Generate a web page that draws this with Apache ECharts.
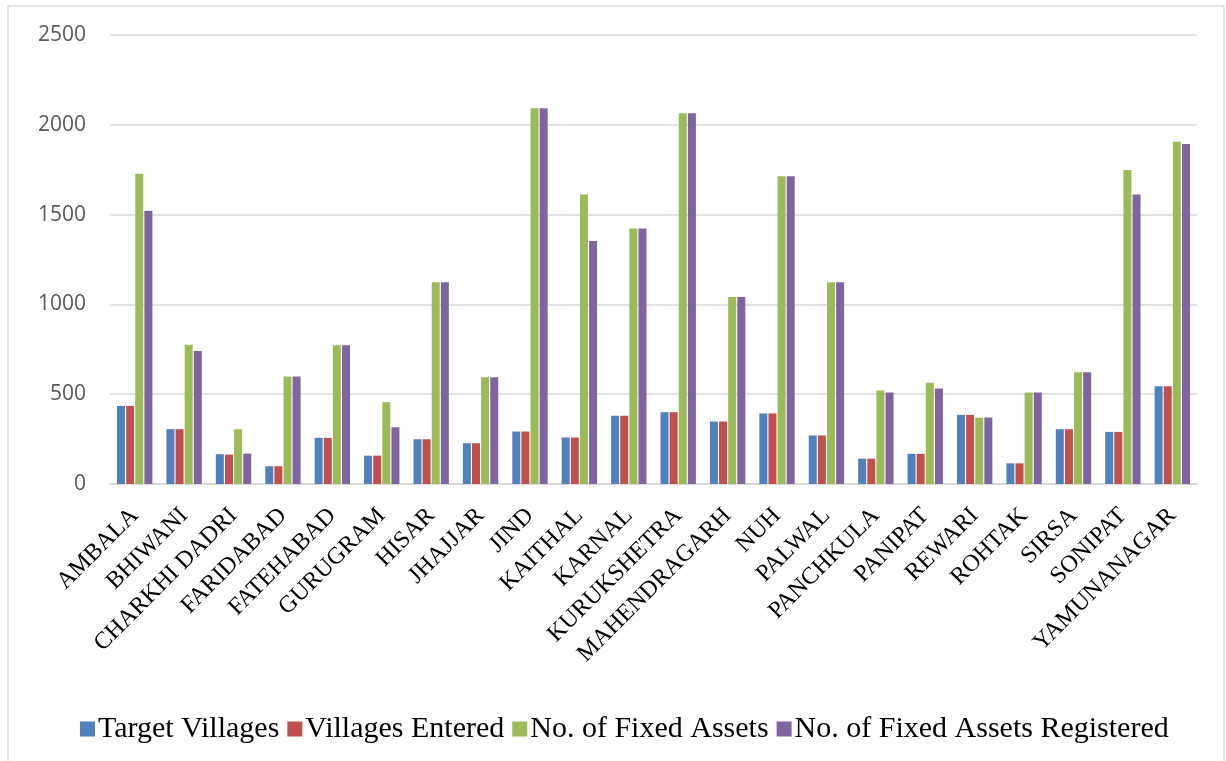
<!DOCTYPE html>
<html>
<head>
<meta charset="utf-8">
<script src="https://cdn.jsdelivr.net/npm/echarts@6/dist/echarts.min.js"></script>
<style>
html,body{margin:0;padding:0;background:#fff;}
#chart{width:1226px;height:761px;}
</style>
</head>
<body>
<div id="chart"></div>
<script>
const categories = ["AMBALA","BHIWANI","CHARKHI DADRI","FARIDABAD","FATEHABAD","GURUGRAM","HISAR","JHAJJAR","JIND","KAITHAL","KARNAL","KURUKSHETRA","MAHENDRAGARH","NUH","PALWAL","PANCHKULA","PANIPAT","REWARI","ROHTAK","SIRSA","SONIPAT","YAMUNANAGAR"];
const targetVillages = [435,305,166,99,257,158,249,227,292,259,380,400,348,393,270,141,168,385,115,305,290,544];
const villagesEntered = [435,305,164,99,257,158,249,227,292,259,380,400,348,393,270,141,168,385,115,305,290,544];
const fixedAssets = [1727,776,305,598,773,456,1124,594,2092,1612,1422,2064,1041,1714,1124,521,564,369,510,622,1748,1906];
const fixedAssetsRegistered = [1521,741,169,598,773,316,1124,594,2092,1353,1422,2064,1041,1714,1124,510,532,370,510,622,1612,1893];
const seriesNames = ["Target Villages","Villages Entered","No. of Fixed Assets","No. of Fixed Assets Registered"];
const colors = ["#4F81BD","#C0504D","#9BBB59","#8064A2"];

const chart = echarts.init(document.getElementById('chart'), null, {renderer:'canvas'});
const dataSets = [targetVillages, villagesEntered, fixedAssets, fixedAssetsRegistered];
chart.setOption({
  animation:false,
  color: colors,
  graphic:[{type:'rect', shape:{x:8,y:6,width:1216,height:760}, style:{fill:'none', stroke:'#D9D9D9', lineWidth:1.5}, silent:true, z:-1}],
  grid:{left:110,right:29,top:35,bottom:277,containLabel:false},
  legend:{
    left:75, top:709, itemWidth:15, itemHeight:15, itemGap:8,
    icon:'rect',
    textStyle:{fontFamily:'Liberation Serif', fontSize:30, color:'#000', padding:[0,0,0,-2]},
    data: seriesNames
  },
  xAxis:{
    type:'category', data:categories,
    axisLine:{lineStyle:{color:'#D9D9D9', width:2}},
    axisTick:{show:false},
    axisLabel:{interval:0, rotate:45, margin:28, fontFamily:'Liberation Serif', fontSize:24, color:'#000'}
  },
  yAxis:{
    type:'value', min:0, max:2500, interval:500,
    axisLine:{show:false}, axisTick:{show:false},
    splitLine:{lineStyle:{color:'#D9D9D9', width:1.5}},
    axisLabel:{margin:24, fontFamily:'Open Sans', fontSize:21, color:'#595959', formatter:(v)=>String(v)}
  },
  series: seriesNames.map((n,i)=>({
    name:n, type:'bar', data:dataSets[i], barWidth:8, barGap:'14%'
  }))
});
</script>
</body>
</html>
